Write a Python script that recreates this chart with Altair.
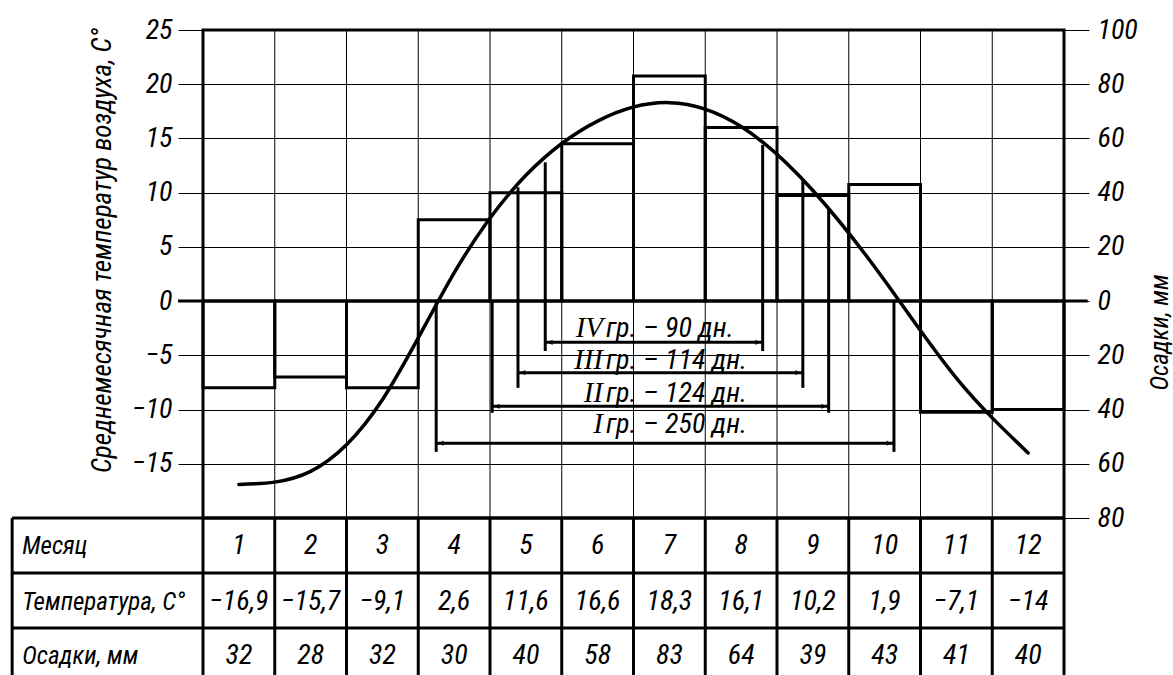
import altair as alt
import pandas as pd

# ---- climate data -------------------------------------------------------
months = list(range(1, 13))
temperature = [-16.9, -15.7, -9.1, 2.6, 11.6, 16.6, 18.3, 16.1, 10.2, 1.9, -7.1, -14.0]
precipitation = [32, 28, 32, 30, 40, 58, 83, 64, 39, 43, 41, 40]

# ---- periods of the temperature groups (in month units) ------------------
group_roman = ["I", "II", "III", "IV"]
group_days = [250, 124, 114, 90]
group_start = [3.75, 4.53, 4.89, 5.27]
group_end = [10.13, 9.22, 8.86, 8.30]
group_start_top = [0.0, 0.0, 10.5, 12.8]   # where the left boundary meets the curve
group_end_top = [0.0, 8.6, 11.2, 14.4]     # where the right boundary meets the curve

# ---- layout (temperature units on y, month units on x) -------------------
dim_level = [-13.1, -9.7, -6.6, -3.8]
dim_foot = [-13.9, -10.3, -8.0, -4.6]
dim_text = [-12.2, -9.3, -6.3, -3.3]
TABLE_LEFT = -2.16
TABLE_ROWS = [-20.0, -25.07, -30.15]
TABLE_BOTTOM = -36.0
ROW_CENTERS = [-22.6, -27.7, -32.7]
HEADER_X = -2.02
ZERO_LEFT, ZERO_RIGHT = 0.152, 12.83

SANS = "'Roboto Condensed', 'Liberation Sans', sans-serif"
SERIF = "'Liberation Serif', serif"


def fmt(v):
    s = f"{abs(v):g}".replace(".", ",")
    return ("\u2212" if v < 0 else "") + s


def xs():
    return alt.Scale(domain=[0.5, 12.5], nice=False, zero=False)


def ts():
    return alt.Scale(domain=[-20, 25], nice=False, zero=False)


P = alt.Scale(domain=[-80, 100], nice=False, zero=False)

climate = pd.DataFrame({
    "month": months,
    "temp": temperature,
    "precip": precipitation,
})
climate["lo"] = climate["month"] - 0.5
climate["hi"] = climate["month"] + 0.5
# cold months: precipitation drawn downwards from the zero line
climate["signed"] = [(-p if t < 0 else p) for p, t in zip(precipitation, temperature)]
climate["zero"] = 0
climate["temp_label"] = [fmt(t) for t in temperature]
climate["precip_label"] = [str(p) for p in precipitation]
climate["month_label"] = [str(m) for m in months]
climate["row_m"] = ROW_CENTERS[0]
climate["row_t"] = ROW_CENTERS[1]
climate["row_p"] = ROW_CENTERS[2]

t_axis = alt.Axis(
    orient="left",
    values=[-15, -10, -5, 0, 5, 10, 15, 20, 25],
    grid=True, gridColor="black", gridWidth=1, gridOpacity=1,
    ticks=True, tickSize=25, tickColor="black", tickWidth=1,
    domain=False,
    labelFont=SANS, labelFontSize=28, labelFontStyle="italic", labelColor="black",
    labelPadding=6, labelFlush=False, labelOverlap=False,
    title="Среднемесячная температур воздуха, С°",
    titleFont=SANS, titleFontSize=27, titleFontStyle="italic", titleFontWeight="normal",
    titleColor="black", titleAngle=-90, titleAlign="center", titleBaseline="middle",
    titleX=-101, titleY=220,
)

p_axis = alt.Axis(
    orient="right",
    values=[-80, -60, -40, -20, 0, 20, 40, 60, 80, 100],
    labelExpr="abs(datum.value)",
    grid=False,
    ticks=True, tickSize=25, tickColor="black", tickWidth=1,
    domain=False,
    labelFont=SANS, labelFontSize=28, labelFontStyle="italic", labelColor="black",
    labelPadding=8, labelFlush=False, labelOverlap=False,
    title="Осадки, мм",
    titleFont=SANS, titleFontSize=25, titleFontStyle="italic", titleFontWeight="normal",
    titleColor="black", titleAngle=-90, titleAlign="center", titleBaseline="middle",
    titleX=95, titleY=302,
)

# ---- temperature curve (carries the left axis and the horizontal grid) ----
curve = alt.Chart(climate).mark_line(
    interpolate="natural", color="black", strokeWidth=3.5, strokeCap="round"
).encode(
    x=alt.X("month:Q", scale=xs(), axis=None),
    y=alt.Y("temp:Q", scale=ts(), axis=t_axis),
)

# ---- precipitation bars (right axis) --------------------------------------
bars = alt.Chart(climate).mark_rect(
    fill="white", fillOpacity=0, stroke="black", strokeWidth=3
).encode(
    x=alt.X("lo:Q", scale=xs(), axis=None), x2="hi:Q",
    y=alt.Y("zero:Q", scale=P, axis=p_axis), y2="signed:Q",
)

# ---- thin month grid and thick table lines --------------------------------
thin = pd.DataFrame({
    "x": [b + 0.5 for b in range(1, 12)],
    "x2": [b + 0.5 for b in range(1, 12)],
    "y": [-20.0] * 11,
    "y2": [25.0] * 11,
})

thick_rows = []
for yv in TABLE_ROWS:
    thick_rows.append({"x": TABLE_LEFT, "x2": 12.5, "y": yv, "y2": yv})
for xv in [TABLE_LEFT] + [b + 0.5 for b in range(0, 13)]:
    thick_rows.append({"x": xv, "x2": xv, "y": -20.0, "y2": TABLE_BOTTOM})
thick_rows.append({"x": ZERO_LEFT, "x2": ZERO_RIGHT, "y": 0.0, "y2": 0.0})
thick = pd.DataFrame(thick_rows)


def segments(df, width):
    return alt.Chart(df).mark_rule(color="black", strokeWidth=width).encode(
        x=alt.X("x:Q", scale=xs(), axis=None), x2="x2:Q",
        y=alt.Y("y:Q", scale=ts(), axis=None), y2="y2:Q",
    )


# ---- group periods: boundaries and dimension lines ------------------------
seg = []
for i in range(4):
    seg.append({"x": group_start[i], "x2": group_start[i], "y": group_start_top[i], "y2": dim_foot[i]})
    seg.append({"x": group_end[i], "x2": group_end[i], "y": group_end_top[i], "y2": dim_foot[i]})
    seg.append({"x": group_start[i], "x2": group_end[i], "y": dim_level[i], "y2": dim_level[i]})
seg = pd.DataFrame(seg)

groups = pd.DataFrame({
    "roman": group_roman,
    "rest": [f"гр. – {d} дн." for d in group_days],
    "start": group_start,
    "end": group_end,
    "level": dim_level,
    "ty": dim_text,
    "rx": [6.075] * 4,
    "sx": [6.117] * 4,
})

arrow_l = alt.Chart(groups).mark_point(
    shape="triangle-left", filled=True, color="black", size=28, opacity=1, xOffset=5
).encode(x=alt.X("start:Q", scale=xs(), axis=None), y=alt.Y("level:Q", scale=ts(), axis=None))
arrow_r = alt.Chart(groups).mark_point(
    shape="triangle-right", filled=True, color="black", size=28, opacity=1, xOffset=-5
).encode(x=alt.X("end:Q", scale=xs(), axis=None), y=alt.Y("level:Q", scale=ts(), axis=None))

roman_text = alt.Chart(groups).mark_text(
    font=SERIF, fontSize=29, fontStyle="italic", align="right", baseline="alphabetic", color="black"
).encode(
    x=alt.X("rx:Q", scale=xs(), axis=None),
    y=alt.Y("ty:Q", scale=ts(), axis=None),
    text="roman:N",
)
rest_text = alt.Chart(groups).mark_text(
    font=SANS, fontSize=28, fontStyle="italic", align="left", baseline="alphabetic", color="black"
).encode(
    x=alt.X("sx:Q", scale=xs(), axis=None),
    y=alt.Y("ty:Q", scale=ts(), axis=None),
    text="rest:N",
)

# ---- table under the chart ------------------------------------------------
header = pd.DataFrame({
    "label": ["Месяц", "Температура, С°", "Осадки, мм"],
    "x": [HEADER_X] * 3,
    "y": ROW_CENTERS,
})
header_text = alt.Chart(header).mark_text(
    font=SANS, fontSize=25, fontStyle="italic", align="left", baseline="middle", color="black"
).encode(
    x=alt.X("x:Q", scale=xs(), axis=None),
    y=alt.Y("y:Q", scale=ts(), axis=None),
    text="label:N",
)


def row_text(field, row):
    return alt.Chart(climate).mark_text(
        font=SANS, fontSize=28, fontStyle="italic", align="center", baseline="middle", color="black"
    ).encode(
        x=alt.X("month:Q", scale=xs(), axis=None),
        y=alt.Y(f"{row}:Q", scale=ts(), axis=None),
        text=f"{field}:N",
    )


chart = alt.layer(
    curve,
    bars,
    segments(thin, 1),
    segments(thick, 3),
    segments(seg, 3),
    arrow_l,
    arrow_r,
    roman_text,
    rest_text,
    header_text,
    row_text("month_label", "row_m"),
    row_text("temp_label", "row_t"),
    row_text("precip_label", "row_p"),
).resolve_scale(y="independent").properties(
    width=861,
    height=488,
    padding={"left": 203, "top": 30, "right": 109, "bottom": 157},
    autosize=alt.AutoSizeParams(type="none"),
    background="white",
).configure_view(stroke="black", strokeWidth=3)

chart.save("out.html", embed_options={"renderer": "svg", "actions": False})
